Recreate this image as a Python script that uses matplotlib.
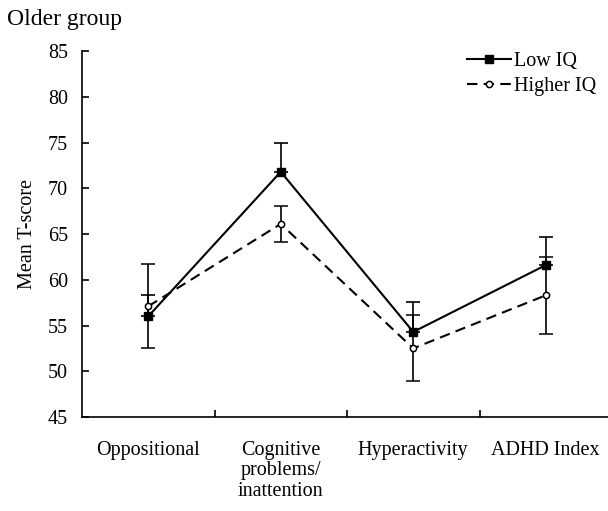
import matplotlib
matplotlib.use("Agg")
import matplotlib.pyplot as plt
from matplotlib.lines import Line2D
import numpy as np

categories = ["Oppositional", "Cognitive\nproblems/\ninattention", "Hyperactivity", "ADHD Index"]
low_iq = [56.0, 71.8, 54.3, 61.6]
low_iq_err = [2.3, 3.2, 3.3, 3.1]        # drawn upward only
higher_iq = [57.1, 66.1, 52.5, 58.3]
higher_iq_err = [4.6, 2.0, 3.6, 4.2]     # drawn both ways
yticks = [45, 50, 55, 60, 65, 70, 75, 80, 85]

plt.rcParams["font.family"] = ["Liberation Serif", "DejaVu Serif"]
fs = 14.5

fig = plt.figure(figsize=(6.08, 5.11), dpi=100)
ax = fig.add_axes([82 / 608, 1 - 417 / 511, 530 / 608, 366 / 511])

x = np.arange(len(categories))
dash = (0, (5, 3))

ax.errorbar(x, low_iq, yerr=[np.zeros(len(low_iq)), low_iq_err],
            color="black", lw=1.5, marker="s", ms=6, mfc="black",
            capsize=5, elinewidth=1.2, capthick=1.2, zorder=3)
ax.errorbar(x, higher_iq, yerr=higher_iq_err,
            color="black", lw=1.5, ls=dash, marker="o", ms=4.5, mfc="white",
            mew=1.1, capsize=5, elinewidth=1.2, capthick=1.2, zorder=3)

ax.set_xlim(-0.5, 3.5)
ax.set_ylim(45, 85)
ax.set_yticks(yticks)
ax.set_xticks(x)
ax.set_xticklabels(categories, fontsize=fs, linespacing=1.13)
ax.set_xticks(x[:-1] + 0.5, minor=True)
ax.tick_params(axis="x", which="major", length=0, pad=17)
ax.tick_params(axis="x", which="minor", direction="in", length=5, width=1.2)
ax.tick_params(axis="y", direction="in", length=5, width=1.2, pad=10, labelsize=fs)

for side in ["top", "right"]:
    ax.spines[side].set_visible(False)
for side in ["left", "bottom"]:
    ax.spines[side].set_linewidth(1.2)

ax.set_ylabel("Mean T-score", fontsize=fs, labelpad=8)
fig.text(7 / 608, 1 - 19 / 511, "Older group", fontsize=17, va="center", ha="left")

handles = [
    Line2D([], [], color="black", lw=1.5, marker="s", ms=6, mfc="black"),
    Line2D([], [], color="black", lw=1.5, ls=dash, marker="o", ms=4.5, mfc="white", mew=1.1),
]
ax.legend(handles, ["Low IQ", "Higher IQ"], loc="upper right", bbox_to_anchor=(0.993, 1.03),
          frameon=False, fontsize=fs, handlelength=2.2, handletextpad=0.15, labelspacing=0.3,
          borderaxespad=0.2)

fig.savefig("out.png", dpi=100)
